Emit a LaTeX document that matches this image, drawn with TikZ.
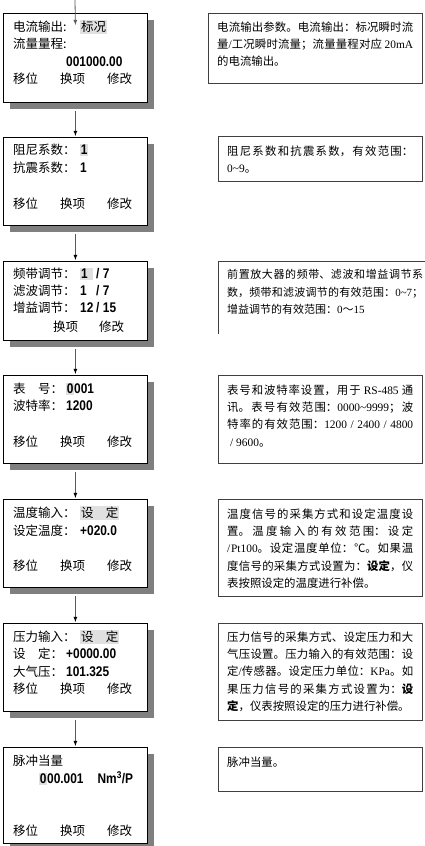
\documentclass[tikz,border=0pt]{standalone}
\usepackage{fontspec}
\usepackage{graphicx}
\setmainfont{Liberation Serif}
\newfontfamily\cjk{Noto Sans CJK SC}
\newfontfamily\numfont{Liberation Sans}
\usetikzlibrary{arrows}
\definecolor{hlgray}{HTML}{E0E0E0}
\definecolor{shadowgray}{HTML}{7F7F7F}
\XeTeXlinebreaklocale "zh"
\XeTeXlinebreakskip=0pt plus 2pt
\tolerance=9999

\newcommand{\hl}[1]{{\setlength{\fboxsep}{0.8pt}\colorbox{hlgray}{#1}}}
\newcommand{\val}[1]{{\numfont\bfseries\fontsize{14}{14}\selectfont\scalebox{0.85}[1]{#1}}}
\newcommand{\lat}[1]{{\rmfamily #1}}
\newcommand{\lab}[2][67pt]{\makebox[#1][l]{#2}}
\newcommand{\ratio}[2]{\makebox[16pt][l]{\val{#1}}\val{/\hspace{4pt}#2}}
\newcommand{\keys}{移位\hspace{22pt}换项\hspace{22pt}修改}

\begin{document}
\begin{tikzpicture}[x=1pt,y=-1pt,
  screen/.style={draw=black,line width=0.8pt,fill=white,anchor=north west,inner sep=0pt,
    minimum width=144pt},
  backing/.style={fill=shadowgray,anchor=north west,inner sep=0pt,minimum width=144pt},
  note/.style={draw=black!75,line width=0.8pt,anchor=north west,inner sep=0pt,minimum width=204pt},
  line/.style={anchor=west,inner sep=0pt,font=\cjk\fontsize{12.5}{15}\selectfont},
  say/.style={anchor=north west,inner sep=0pt,text width=186pt,align=justify,
    font=\cjk\fontsize{11.4}{17.3}\selectfont},
  flow/.style={draw=black!65,line width=0.8pt,-latex,shorten <=8pt,shorten >=1pt}]

  \useasboundingbox (0,0) rectangle (425,846);

  % shadows, then screens
  \node[backing,minimum height=89pt] (sh1) at (10,20) {};
  \node[backing,minimum height=88pt] (sh2) at (10,144) {};
  \node[backing,minimum height=79pt] (sh3) at (10,268) {};
  \node[backing,minimum height=88pt] (sh4) at (10,382) {};
  \node[backing,minimum height=88pt] (sh5) at (10,506) {};
  \node[backing,minimum height=88pt] (sh6) at (10,630) {};
  \node[backing,minimum height=96pt] (sh7) at (10,754) {};

  \node[screen,minimum height=89pt] (lcd1) at (3,13) {};
  \node[screen,minimum height=88pt] (lcd2) at (3,137) {};
  \node[screen,minimum height=79pt] (lcd3) at (3,261) {};
  \node[screen,minimum height=88pt] (lcd4) at (3,375) {};
  \node[screen,minimum height=88pt] (lcd5) at (3,499) {};
  \node[screen,minimum height=88pt] (lcd6) at (3,623) {};
  \node[screen,minimum height=96pt] (lcd7) at (3,747) {};

  \node[line] (cur) at (13,27) {\lab{电流输出:}\hl{标况}};
  \node[line] (rng) at (13,44) {流量量程:};
  \node[line] (rngv) at (66,62) {\val{001000.00}};
  \node[line] (k1) at (13,79) {\keys};

  \node[line] (damp) at (13,150) {\lab{阻尼系数：}\val{\hl{1}}};
  \node[line] (shock) at (13,168) {\lab{抗震系数：}\val{1}};
  \node[line] (k2) at (13,204) {\keys};

  \node[line] (band) at (13,274) {\lab{频带调节：}\makebox[16pt][l]{\hl{\val{1}\hspace{5pt}}}\val{/\hspace{4pt}7}};
  \node[line] (filt) at (13,291) {\lab{滤波调节：}\ratio{1}{7}};
  \node[line] (gain) at (13,308) {\lab{增益调节：}\ratio{12}{15}};
  \node[line] (k3) at (53,327) {换项\hspace{21pt}修改};

  \node[line] (addr) at (13,389) {\lab[53pt]{表\hspace{1em}号：}\val{\hl{0}001}};
  \node[line] (baud) at (13,406) {\lab[53pt]{波特率：}\val{1200}};
  \node[line] (k4) at (13,442) {\keys};

  \node[line] (tin) at (13,513) {\lab{温度输入：}\hl{设\hspace{1em}定}};
  \node[line] (tset) at (13,531) {\lab{设定温度：}\val{+020.0}};
  \node[line] (k5) at (13,566) {\keys};

  \node[line] (pin) at (13,637) {\lab{压力输入：}\hl{设\hspace{1em}定}};
  \node[line] (pset) at (13,654) {\lab[53pt]{设\hspace{1em}定：}\val{+0000.00}};
  \node[line] (atm) at (13,672) {\lab[53pt]{大气压：}\val{101.325}};
  \node[line] (k6) at (13,689) {\keys};

  \node[line] (pulse) at (13,761) {脉冲当量};
  \node[line] (pulsev) at (39,778) {\val{\hl{0}00.001}\hspace{14pt}\val{Nm\textsuperscript{3}/P}};
  \node[line] (k7) at (13,831) {\keys};

  % arrows
  \coordinate (entry) at (75,0);
  \draw[flow,shorten <=0pt,shorten >=0pt] (entry) -- ([yshift=-12pt]lcd1.north);
  \path[flow] (lcd1) edge (lcd2)
    (lcd2) edge (lcd3)
    (lcd3) edge (lcd4)
    (lcd4) edge (lcd5)
    (lcd5) edge (lcd6)
    (lcd6) edge (lcd7);

  % notes
  \node[note,minimum width=214pt,minimum height=70pt] (txt1) at (208,13) {};
  \node[note,minimum height=45pt] (txt2) at (218,136) {};
  \draw[draw=black!75,line width=0.8pt] (426,261) -| (218,334);
  \node[note,minimum height=88pt] (txt4) at (218,375) {};
  \node[note,minimum height=97pt] (txt5) at (218,499) {};
  \node[note,minimum height=97pt] (txt6) at (218,623) {};
  \node[note,minimum height=44pt] (txt7) at (218,747) {};

  \node[say,text width=196pt] (say1) at (217,21.5) {电流输出参数。电流输出：标况瞬时流\linebreak
    量\lat{/}工况瞬时流量；流量量程对应 \lat{20mA}\linebreak
    的电流输出。};
  \node[say] (say2) at (227,145.5) {阻尼系数和抗震系数，有效范围：\linebreak
    \lat{0\textasciitilde9}。};
  \node[say,text width=196pt,font=\cjk\fontsize{11}{17.3}\selectfont] (say3) at (227,269.5) {前置放大器的频带、滤波和增益调节系\linebreak
    数，频带和滤波调节的有效范围：\lat{0\textasciitilde7}；\linebreak
    增益调节的有效范围：\lat{0}～\lat{15}};
  \node[say] (say4) at (227,384.5) {表号和波特率设置，用于 \lat{RS-485} 通\linebreak
    讯。表号有效范围：\lat{0000\textasciitilde9999}；波\linebreak
    特率的有效范围：\lat{1200 / 2400 / 4800}\linebreak
    \hspace*{3pt}\lat{/ 9600}。};
  \node[say] (say5) at (227,508.5) {温度信号的采集方式和设定温度设\linebreak
    置。温度输入的有效范围：设定\linebreak
    \lat{/Pt100}。设定温度单位：℃。如果温\linebreak
    度信号的采集方式设置为：\textbf{设定}，仪\linebreak
    表按照设定的温度进行补偿。};
  \node[say] (say6) at (227,631.5) {压力信号的采集方式、设定压力和大\linebreak
    气压设置。压力输入的有效范围：设\linebreak
    定\lat{/}传感器。设定压力单位：\lat{KPa}。如\linebreak
    果压力信号的采集方式设置为：\textbf{设\linebreak
    定}，仪表按照设定的压力进行补偿。};
  \node[say] (say7) at (227,756.5) {脉冲当量。};
\end{tikzpicture}
\end{document}
